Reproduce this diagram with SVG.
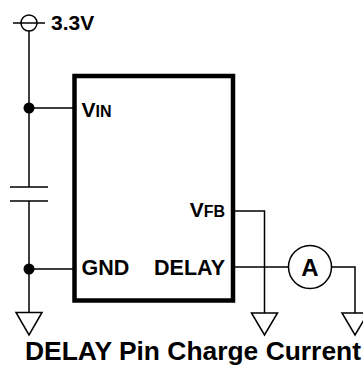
<svg xmlns="http://www.w3.org/2000/svg" width="363" height="365" viewBox="0 0 363 365">
<style>
.w{fill:none;stroke:#000;stroke-width:1.5}
.t{font-family:"Liberation Sans",Arial,sans-serif;font-weight:bold;fill:#000}
.dot{fill:#000}
</style>
<rect width="363" height="365" fill="#fff"/>
<g id="connectors">
<path class="w" d="M29,31 V187 M29,201 V312"/>
<path class="w" d="M10,187 H48 M10,201 H48"/>
<path class="w" d="M29,108 H73 M29,269 H73"/>
<path class="w" d="M235,211 H264.5 V313"/>
<path class="w" d="M235,267 H288.5 M331.5,267 H355 V313"/>
<circle class="dot" cx="29" cy="108" r="5.5"/>
<circle class="dot" cx="29" cy="269" r="5.5"/>
</g>
<g id="supply">
<circle class="w" cx="29" cy="23" r="8"/>
<path class="w" d="M13,23 H45"/>
<text class="t" x="51" y="30" font-size="21">3.3V</text>
</g>
<g id="ic">
<rect x="74.5" y="76" width="158.5" height="224.5" fill="#fff" stroke="#000" stroke-width="4.5"/>
<text class="t" x="81.5" y="117" font-size="21">V<tspan font-size="16">IN</tspan></text>
<text class="t" x="225" y="217" font-size="21" text-anchor="end">V<tspan font-size="16">FB</tspan></text>
<text class="t" x="81.5" y="275" font-size="21.5">GND</text>
<text class="t" x="225" y="275" font-size="21.5" text-anchor="end">DELAY</text>
</g>
<g id="ammeter">
<circle class="w" cx="310" cy="267" r="21.5" fill="#fff"/>
<text class="t" x="310" y="276" font-size="24" text-anchor="middle">A</text>
</g>
<g id="gnd1"><path class="w" d="M16,312.5 H42 L29,335 Z"/></g>
<g id="gnd2"><path class="w" d="M251.5,313 H277.5 L264.5,335 Z"/></g>
<g id="gnd3"><path class="w" d="M342,313 H368 L355,335 Z"/></g>
<g id="title"><text class="t" x="25" y="359.5" font-size="26" textLength="336" lengthAdjust="spacingAndGlyphs">DELAY Pin Charge Current</text></g>
</svg>
